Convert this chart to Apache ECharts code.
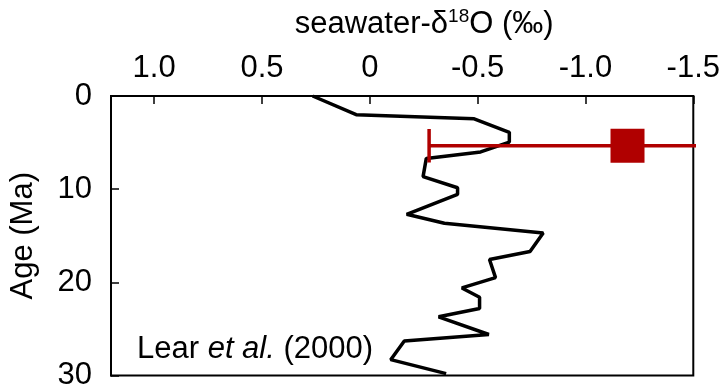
<!DOCTYPE html>
<html>
<head>
<meta charset="utf-8">
<script src="https://cdn.jsdelivr.net/npm/echarts@6/dist/echarts.min.js"></script>
<style>
  html, body { margin: 0; padding: 0; background: #fff; }
  #chart { width: 723px; height: 391px; }
</style>
</head>
<body>
<div id="chart"></div>
<script>
// Lear et al. (2000) seawater d18O record
var ageMa = [0, 2.0, 2.45, 3.9, 4.95, 6.0, 6.7, 8.65, 9.85, 10.55, 12.7, 13.65, 14.7, 16.7, 16.85,
  17.55, 19.5, 20.6, 21.6, 22.8, 23.7, 25.6, 26.3, 28.3, 29.8]
var d18O = [0.265, 0.063, -0.484, -0.647, -0.647, -0.514, -0.262, -0.247, -0.407, -0.407, -0.171,
  -0.346, -0.804, -0.743, -0.75, -0.555, -0.583, -0.427, -0.509, -0.509, -0.319, -0.552, -0.16,
  -0.097, -0.354]

// single estimate with error bar
var estAge = 5.35
var estValue = -1.195
var estLow = -0.275
var estHigh = -2.115

var xTicks = [1.0, 0.5, 0, -0.5, -1.0, -1.5]

var red = '#b00000'
var font = 'Liberation Sans, Arial, sans-serif'
var fs = 31

var lineData = ageMa.map(function (a, i) { return [d18O[i], a] })

var chart = echarts.init(document.getElementById('chart'))

var option = {
  backgroundColor: '#fff',
  animation: false,
  grid: {
    left: 109,
    right: 24,
    top: 96,
    bottom: 9,
    show: true,
    borderColor: '#000',
    borderWidth: 2
  },
  xAxis: {
    type: 'value',
    position: 'top',
    inverse: true,
    min: -1.5,
    max: 1.2,
    interval: 0.5,
    name: 'seawater-δ{sup|18}O (‰)',
    nameLocation: 'middle',
    nameGap: 55,
    nameTextStyle: {
      color: '#000',
      fontSize: fs,
      fontFamily: font,
      padding: [0, 0, 0, 44],
      rich: {
        sup: { fontSize: 19, fontFamily: font, color: '#000', padding: [0, 0, 15, 0] }
      }
    },
    axisLine: { show: true, onZero: false, lineStyle: { color: '#000', width: 2 } },
    axisTick: { show: true, inside: true, length: 8, lineStyle: { color: '#000', width: 1.5 } },
    splitLine: { show: false },
    axisLabel: {
      color: '#000',
      fontSize: fs,
      fontFamily: font,
      margin: 12,
      formatter: function (v) {
        var hit = xTicks.some(function (t) { return Math.abs(t - v) < 1e-6 })
        if (!hit) return ''
        return v === 0 ? '0' : v.toFixed(1)
      }
    }
  },
  yAxis: {
    type: 'value',
    inverse: true,
    min: 0,
    max: 30,
    interval: 10,
    name: 'Age (Ma)',
    nameLocation: 'middle',
    nameGap: 72,
    nameTextStyle: { color: '#000', fontSize: fs, fontFamily: font },
    axisLine: { show: true, onZero: false, lineStyle: { color: '#000', width: 2 } },
    axisTick: { show: true, inside: true, length: 8, lineStyle: { color: '#000', width: 1.5 } },
    splitLine: { show: false },
    axisLabel: { color: '#000', fontSize: fs, fontFamily: font, margin: 19 }
  },
  graphic: [{
    type: 'text',
    left: 137,
    top: 334,
    style: {
      text: '{a|Lear }{i|et al.}{a| (2000)}',
      rich: {
        a: { fontSize: fs, fontFamily: font, fill: '#000' },
        i: { fontSize: fs, fontFamily: font, fontStyle: 'italic', fill: '#000' }
      }
    }
  }],
  series: [
    {
      type: 'line',
      data: lineData,
      symbol: 'none',
      clip: true,
      lineStyle: { color: '#000', width: 3.5 },
      z: 2
    },
    {
      type: 'line',
      data: [[estLow, estAge], [estHigh, estAge]],
      symbol: 'none',
      clip: true,
      lineStyle: { color: red, width: 3.5 },
      z: 3
    },
    {
      type: 'line',
      data: [[estLow, estAge - 1.8], [estLow, estAge + 1.8]],
      symbol: 'none',
      clip: true,
      lineStyle: { color: red, width: 3.5 },
      z: 3
    },
    {
      type: 'scatter',
      data: [[estValue, estAge]],
      symbol: 'rect',
      symbolSize: 34,
      itemStyle: { color: red, opacity: 1 },
      z: 4
    }
  ]
}

chart.setOption(option)
</script>
</body>
</html>
